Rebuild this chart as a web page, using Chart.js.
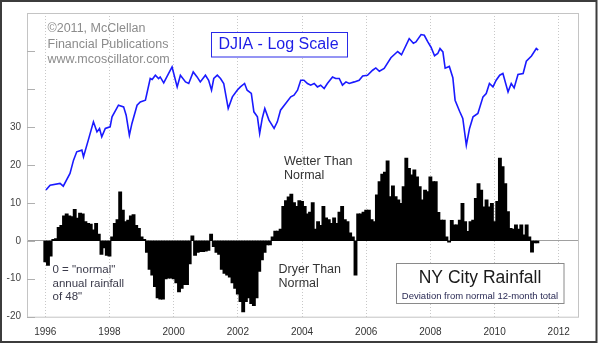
<!DOCTYPE html>
<html>
<head>
<meta charset="utf-8">
<script src="https://cdn.jsdelivr.net/npm/chart.js@4.4.1/dist/chart.umd.min.js"></script>
<style>
  html, body { margin: 0; padding: 0; background: #fff; }
  canvas { display: block; }
</style>
</head>
<body>
<canvas id="rainChart" width="600" height="343"></canvas>
<script>
// NYC rainfall: deviation from normal 12-month total (inches), monthly from Jan 1996
const rainStartYear = 1996;
const rainfall = [
  -5.5, -6.4, -4, 0.3, 0.5, 3.5, 4, 6.5, 7, 6.5, 6.3, 8.2,          // 1996
  5.9, 7.2, 7, 5, 4.5, 4.3, 2.8, 4.5, 1.7, -3.5, -1.8, -3.8,        // 1997
  -4.0, 1, 4.5, 5.5, 12.8, 8, 5, 5.4, 6.5, 6.8, 4, 3.2,             // 1998
  1, 0.3, -3, -7.5, -9, -12, -15, -15.3, -15.3, -10, -9.8, -9.8,    // 1999
  -10, -11, -13.4, -12.5, -11.5, -11.5, -6, 1.2, -3.8, -3, -2.8, -2.8, // 2000
  -2.7, -2.5, 1.7, -1.5, -3, -3.5, -7.5, -8.5, -9, -9.5, -11, -12.5,   // 2001
  -14, -16, -18.7, -16, -15, -16.5, -17, -15, -8, -5, -3, -1,       // 2002
  -1, 1, 2.5, 2.5, 3, 9, 10.5, 11.5, 12.2, 10, 9, 10.5,             // 2003
  10.3, 9, 7, 7.5, 10, 3, 5, 4, 9, 6, 5.5, 4.5,                     // 2004
  6, 4.5, 7.5, 9, 5.5, 5, 2, 1, -9, 7, 7, 7.5,                      // 2005
  8, 8, 5.5, 5, 12, 15.5, 17.5, 18, 21, 11.6, 14.4, 11.6,           // 2006
  10.7, 9.8, 14.2, 21.7, 19, 17.3, 18.6, 16.8, 14.2, 10.7, 13.3, 12.9, // 2007
  16.8, 15.5, 15.5, 7.4, 5.4, 5.4, 1, -0.3, 5.3, 4.1, 4.1, 5.4,     // 2008
  9.8, 5, 2.4, 5, 5.4, 11.1, 15, 13.3, 8.9, 10.7, 8.9, 9.8,         // 2009
  5, 10.3, 21.7, 19.5, 15, 7.6, 3.2, 3, 4.1, 3, 4.1, 1.5,           // 2010
  4.1, 1, -2.9, -0.5, -0.5                                          // 2011
];

// DJIA (log scale)
const djiaYears = [
  1996.02, 1996.15, 1996.46, 1996.56, 1996.77, 1996.88, 1996.98,
  1997.14, 1997.19, 1997.34, 1997.50, 1997.61, 1997.69, 1997.76, 1997.87,
  1998.02, 1998.08, 1998.28, 1998.44, 1998.52, 1998.62, 1998.70, 1998.86, 1998.96,
  1999.12, 1999.27, 1999.33, 1999.43, 1999.53, 1999.58, 1999.69, 1999.84, 1999.95,
  2000.11, 2000.21, 2000.37, 2000.47, 2000.61, 2000.73, 2000.83, 2000.99,
  2001.09, 2001.18, 2001.25, 2001.36, 2001.46, 2001.56, 2001.70, 2001.83, 2001.98,
  2002.08, 2002.21, 2002.29, 2002.42, 2002.50, 2002.61, 2002.68, 2002.76, 2002.84, 2002.97,
  2003.13, 2003.23, 2003.33, 2003.49, 2003.65, 2003.75, 2003.86, 2003.96,
  2004.06, 2004.17, 2004.27, 2004.38, 2004.48, 2004.58, 2004.69, 2004.79, 2004.95,
  2005.05, 2005.16, 2005.26, 2005.37, 2005.47, 2005.63, 2005.78, 2005.89,
  2006.04, 2006.20, 2006.30, 2006.41, 2006.56, 2006.77, 2006.98,
  2007.10, 2007.34, 2007.47, 2007.55, 2007.71, 2007.81, 2007.92,
  2008.02, 2008.13, 2008.23, 2008.30, 2008.39, 2008.46, 2008.59, 2008.70, 2008.77, 2008.91,
  2009.01, 2009.12, 2009.22, 2009.33, 2009.48, 2009.64, 2009.74, 2009.84, 2009.95,
  2010.05, 2010.16, 2010.26, 2010.42, 2010.52, 2010.61, 2010.73, 2010.89, 2010.99,
  2011.15, 2011.30, 2011.36
];
const djiaValues = [
  5100, 5266, 5324, 5232, 5683, 6195, 6539,
  6611, 6330, 7053, 7943, 7443, 7610, 7205, 7610,
  7689, 8204, 8850, 8753, 8296, 7285, 7861, 8850, 9041,
  9141, 10522, 10455, 10750, 10522, 10632, 10226, 10869, 11344,
  9966, 10750, 10295, 10189, 10982, 10632, 10295, 10750,
  10407, 9755, 10522, 10750, 10522, 10189, 8662, 9340, 9755,
  9966, 10189, 9755, 9549, 8476, 8204, 7366, 8120, 8662, 8031,
  7610, 7943, 8567, 8948, 9340, 9444, 9755, 10407,
  10407, 10189, 10077, 10189, 9966, 10077, 9863, 10189, 10632,
  10522, 10522, 10077, 10295, 10189, 10295, 10407, 10703,
  10750, 11104, 11272, 11033, 11228, 12043, 12537,
  12280, 13638, 13230, 13340, 13998, 13934, 13340,
  12892, 12200, 12376, 12782, 12505, 11251, 11382, 10578, 9141, 8511,
  8120, 6828, 7610, 8204, 8386, 9340, 9549, 10189, 9966,
  10407, 10750, 10869, 9648, 10189, 9902, 10799, 10869, 11773,
  12184, 12782, 12644
];

const yearTicks = [1996, 1998, 2000, 2002, 2004, 2006, 2008, 2010, 2012];
const rainTicks = [-20, -10, 0, 10, 20, 30, 40, 50];
const rainLabels = ['-20', '-10', '0', '10', '20', '30', '', ''];

const FONT = 'Arial, "Liberation Sans", sans-serif';

// frame, inner tick marks and all the text boxes
const decorations = {
  id: 'decorations',
  beforeDatasetsDraw(chart) {
    const { ctx, chartArea: a } = chart;
    const y = chart.scales.y;
    ctx.save();
    ctx.strokeStyle = '#c4c4c4';
    ctx.lineWidth = 1;
    ctx.strokeRect(a.left + 0.5, a.top + 0.5, a.right - a.left, a.bottom - a.top);
    ctx.strokeStyle = '#b0b0b0';
    rainTicks.forEach(v => {
      const py = Math.round(y.getPixelForValue(v)) + 0.5;
      ctx.beginPath();
      ctx.moveTo(a.left, py);
      ctx.lineTo(a.left + 8, py);
      ctx.stroke();
    });
    ctx.restore();
  },
  afterDraw(chart) {
    const { ctx } = chart;
    ctx.save();
    ctx.textBaseline = 'alphabetic';
    ctx.textAlign = 'left';

    // copyright
    ctx.fillStyle = '#8c8c8c';
    ctx.font = '12.5px ' + FONT;
    ctx.fillText('©2011, McClellan', 47.5, 32);
    ctx.fillText('Financial Publications', 47.5, 47.5);
    ctx.fillText('www.mcoscillator.com', 47.5, 63);

    // DJIA box
    ctx.fillStyle = '#fff';
    ctx.fillRect(211.5, 32.5, 136, 24.5);
    ctx.strokeStyle = '#2a2ae8';
    ctx.lineWidth = 1;
    ctx.strokeRect(211.5, 32.5, 136, 24.5);
    ctx.fillStyle = '#1e1ee6';
    ctx.font = '16px ' + FONT;
    ctx.fillText('DJIA - Log Scale', 218.5, 49);

    // notes
    ctx.fillStyle = '#333';
    ctx.font = '12.5px ' + FONT;
    ctx.fillText('Wetter Than', 284, 164.5);
    ctx.fillText('Normal', 284, 179);
    ctx.fillText('Dryer Than', 278.5, 272.5);
    ctx.fillText('Normal', 278.5, 287);

    ctx.fillStyle = '#3a3a4a';
    ctx.font = '11.5px ' + FONT;
    ctx.fillText('0 = "normal"', 52.5, 272.5);
    ctx.fillText('annual rainfall', 52.5, 286.5);
    ctx.fillText('of 48"', 52.5, 300);

    // title box
    ctx.fillStyle = '#fff';
    ctx.fillRect(396.5, 263.5, 167.5, 40);
    ctx.strokeStyle = '#8a8a8a';
    ctx.strokeRect(396.5, 263.5, 167.5, 40);
    ctx.textAlign = 'center';
    ctx.fillStyle = '#1a1a1a';
    ctx.font = '17.5px ' + FONT;
    ctx.fillText('NY City Rainfall', 480, 283);
    ctx.fillStyle = '#2b2b55';
    ctx.font = '9.5px ' + FONT;
    ctx.fillText('Deviation from normal 12-month total', 480, 298.5);

    // outer frame
    ctx.strokeStyle = '#3c3c3c';
    ctx.lineWidth = 2;
    ctx.strokeRect(1, 1, 595.5, 341);
    ctx.restore();
  }
};

const ctx = document.getElementById('rainChart').getContext('2d');

new Chart(ctx, {
  type: 'bar',
  data: {
    datasets: [
      {
        type: 'line',
        label: 'DJIA',
        data: djiaYears.map((t, i) => ({ x: t, y: djiaValues[i] })),
        yAxisID: 'dow',
        borderColor: '#1a1aff',
        borderWidth: 1.6,
        pointRadius: 0,
        tension: 0,
        order: 0
      },
      {
        label: 'NYC Rainfall',
        data: rainfall.map((v, i) => ({ x: rainStartYear + i / 12, y: v })),
        yAxisID: 'y',
        backgroundColor: '#000',
        borderColor: '#000',
        borderWidth: 0,
        inflateAmount: 0.6,
        categoryPercentage: 1,
        barPercentage: 1,
        order: 1
      }
    ]
  },
  options: {
    responsive: false,
    animation: false,
    devicePixelRatio: 1,
    layout: { padding: { left: 0, right: 22, top: 13, bottom: 0 } },
    plugins: {
      legend: { display: false },
      tooltip: { enabled: false }
    },
    scales: {
      x: {
        type: 'linear',
        min: 1995.43,
        max: 2012.6,
        offset: false,
        afterBuildTicks: axis => { axis.ticks = yearTicks.map(v => ({ value: v })); },
        afterFit: axis => { axis.height = 26.3; },
        grid: { color: '#c8c8c8', drawTicks: false, offset: false },
        border: { display: false, dash: [1, 2] },
        ticks: {
          color: '#333',
          font: { family: FONT, size: 10 },
          padding: 10,
          maxRotation: 0,
          callback: v => String(v)
        }
      },
      y: {
        type: 'linear',
        min: -20,
        max: 60,
        afterBuildTicks: axis => { axis.ticks = rainTicks.map(v => ({ value: v })); },
        afterFit: axis => { axis.width = 27; },
        grid: {
          drawTicks: false,
          color: c => (c.tick && c.tick.value === 0 ? '#a0a0a0' : 'rgba(0,0,0,0)')
        },
        border: { display: false },
        ticks: {
          color: '#444',
          font: { family: FONT, size: 10 },
          padding: 6,
          callback: (v, i) => rainLabels[i]
        }
      },
      dow: {
        type: 'logarithmic',
        display: false,
        min: 2242,
        max: 16100
      }
    }
  },
  plugins: [decorations]
});
</script>
</body>
</html>
